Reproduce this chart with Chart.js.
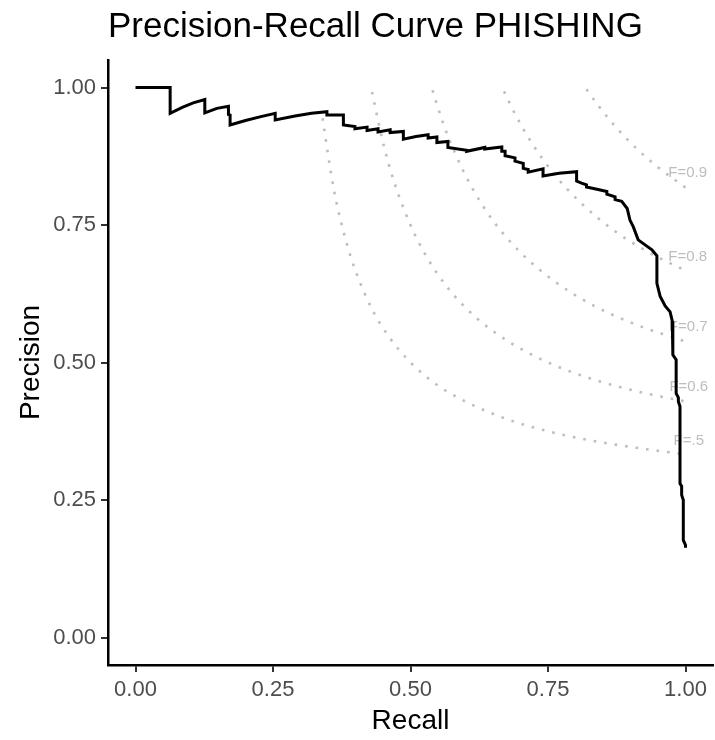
<!DOCTYPE html>
<html>
<head>
<meta charset="utf-8">
<script src="https://cdn.jsdelivr.net/npm/chart.js@4"></script>
<style>
    body { margin: 0; background: #fff; }
    canvas { display: block; }
</style>
</head>
<body>
<canvas id="prChart" width="715" height="740"></canvas>
<script>
// PR curve points (recall, precision)
const recall = [
    0.000, 0.063, 0.063, 0.085, 0.105, 0.126, 0.126, 0.148, 0.169, 0.169,
    0.172, 0.172, 0.200, 0.228, 0.254, 0.254, 0.290, 0.320, 0.348, 0.348,
    0.378, 0.378, 0.399, 0.399, 0.421, 0.421, 0.441, 0.441, 0.463, 0.463,
    0.487, 0.487, 0.510, 0.532, 0.532, 0.548, 0.548, 0.568, 0.568, 0.602,
    0.602, 0.635, 0.635, 0.666, 0.666, 0.672, 0.672, 0.690, 0.690, 0.705,
    0.705, 0.714, 0.714, 0.741, 0.741, 0.770, 0.802, 0.802, 0.811, 0.820,
    0.820, 0.839, 0.857, 0.857, 0.872, 0.872, 0.884, 0.894, 0.899, 0.905,
    0.914, 0.929, 0.939, 0.948, 0.948, 0.954, 0.963, 0.972, 0.976, 0.977,
    0.983, 0.983, 0.987, 0.987, 0.990, 0.990, 0.993, 0.993, 0.996, 0.996,
    1.000, 1.000
];
const precision = [
    1.000, 1.000, 0.953, 0.964, 0.972, 0.978, 0.954, 0.962, 0.966, 0.951,
    0.950, 0.932, 0.940, 0.947, 0.953, 0.941, 0.948, 0.953, 0.956, 0.950,
    0.950, 0.932, 0.929, 0.925, 0.928, 0.922, 0.925, 0.919, 0.923, 0.918,
    0.920, 0.906, 0.911, 0.914, 0.908, 0.910, 0.900, 0.902, 0.891, 0.886,
    0.884, 0.891, 0.888, 0.892, 0.884, 0.884, 0.876, 0.872, 0.866, 0.862,
    0.853, 0.851, 0.846, 0.852, 0.839, 0.844, 0.847, 0.830, 0.826, 0.823,
    0.819, 0.815, 0.811, 0.806, 0.801, 0.796, 0.793, 0.780, 0.759, 0.747,
    0.723, 0.712, 0.705, 0.694, 0.644, 0.620, 0.603, 0.592, 0.575, 0.514,
    0.505, 0.444, 0.436, 0.429, 0.420, 0.280, 0.275, 0.259, 0.250, 0.177,
    0.168, 0.163
];

// iso-F reference curves
const fLevels = [0.5, 0.6, 0.7, 0.8, 0.9];
const isoRecall = [
    [0.34, 0.36, 0.38, 0.40, 0.43, 0.46, 0.50, 0.55, 0.60, 0.67, 0.75, 0.83, 0.91, 1.00],
    [0.43, 0.45, 0.47, 0.50, 0.53, 0.57, 0.62, 0.68, 0.75, 0.83, 0.91, 1.00],
    [0.54, 0.56, 0.58, 0.61, 0.65, 0.70, 0.76, 0.83, 0.91, 1.00],
    [0.67, 0.69, 0.72, 0.76, 0.81, 0.87, 0.93, 1.00],
    [0.82, 0.84, 0.87, 0.91, 0.95, 1.00]
];
const isoPrecision = [
    [0.944, 0.818, 0.731, 0.667, 0.597, 0.548, 0.500, 0.458, 0.429, 0.399, 0.375, 0.358, 0.345, 0.333],
    [0.992, 0.900, 0.829, 0.750, 0.691, 0.633, 0.581, 0.537, 0.500, 0.470, 0.448, 0.429],
    [0.995, 0.933, 0.883, 0.821, 0.758, 0.700, 0.649, 0.605, 0.569, 0.538],
    [0.993, 0.952, 0.900, 0.844, 0.790, 0.740, 0.702, 0.667],
    [0.997, 0.969, 0.932, 0.890, 0.855, 0.818]
];
const fLabels = ['F=.5', 'F=0.6', 'F=0.7', 'F=0.8', 'F=0.9'];
const fLabelRecall = [1.006, 1.006, 1.005, 1.004, 1.004];
const fLabelPrecision = [0.358, 0.455, 0.565, 0.692, 0.845];

const tickValues = [0, 0.25, 0.5, 0.75, 1];

const FONT = "'Liberation Sans', Arial, sans-serif";

function toPoints(xs, ys) {
    return xs.map((x, i) => ({ x: x, y: ys[i] }));
}

const datasets = [{
    label: 'PR',
    data: toPoints(recall, precision),
    borderColor: '#000000',
    borderWidth: 3,
    pointRadius: 0,
    tension: 0,
    borderJoinStyle: 'miter',
}];

fLevels.forEach((f, i) => {
    datasets.push({
        label: 'F=' + f,
        data: toPoints(isoRecall[i], isoPrecision[i]),
        borderColor: '#BEBEBE',
        borderWidth: 2.6,
        borderDash: [2.6, 8],
        pointRadius: 0,
        cubicInterpolationMode: 'monotone',
    });
});

// F labels sit under the PR curve
const isoLabels = {
    id: 'isoLabels',
    beforeDatasetsDraw(chart) {
        const { ctx, scales } = chart;
        ctx.save();
        ctx.font = '15px ' + FONT;
        ctx.fillStyle = '#BDBDBD';
        ctx.textAlign = 'center';
        ctx.textBaseline = 'middle';
        fLabels.forEach((t, i) => {
            ctx.fillText(t, scales.x.getPixelForValue(fLabelRecall[i]), scales.y.getPixelForValue(fLabelPrecision[i]));
        });
        ctx.restore();
    }
};

// title left-aligned with the panel
const leftTitle = {
    id: 'leftTitle',
    afterDraw(chart) {
        const ctx = chart.ctx;
        ctx.save();
        ctx.font = '35px ' + FONT;
        ctx.fillStyle = '#000000';
        ctx.textAlign = 'left';
        ctx.textBaseline = 'alphabetic';
        ctx.fillText('Precision-Recall Curve PHISHING', chart.chartArea.left, 37);
        ctx.restore();
    }
};

function axisOptions(titleText, size, isX) {
    return {
        type: 'linear',
        min: -0.05,
        max: 1.05,
        afterBuildTicks: (scale) => {
            scale.ticks = tickValues.map(v => ({ value: v }));
        },
        afterFit: (scale) => {
            if (isX) scale.height = size; else scale.width = size;
        },
        ticks: {
            autoSkip: false,
            maxRotation: 0,
            padding: 5,
            color: '#4D4D4D',
            font: { family: FONT, size: 22 },
            callback: (v) => Number(v).toFixed(2),
        },
        grid: {
            display: true,
            drawOnChartArea: false,
            drawTicks: true,
            tickLength: 7,
            color: '#333333',
            lineWidth: 2,
        },
        border: { display: true, color: '#000000', width: 2.5 },
        title: {
            display: true,
            text: titleText,
            color: '#000000',
            font: { family: FONT, size: 28 },
            padding: isX ? { top: 0, bottom: 2 } : { top: 14, bottom: 0 },
        },
    };
}

const ctx = document.getElementById('prChart').getContext('2d');
const prChart = new Chart(ctx, {
    type: 'line',
    data: { datasets: datasets },
    options: {
        responsive: false,
        animation: false,
        parsing: false,
        layout: { padding: { top: 60, right: 2, left: 0, bottom: 0 } },
        plugins: {
            legend: { display: false },
            tooltip: { enabled: false },
        },
        scales: {
            x: axisOptions('Recall', 75, true),
            y: axisOptions('Precision', 108, false),
        },
    },
    plugins: [isoLabels, leftTitle],
});
</script>
</body>
</html>
